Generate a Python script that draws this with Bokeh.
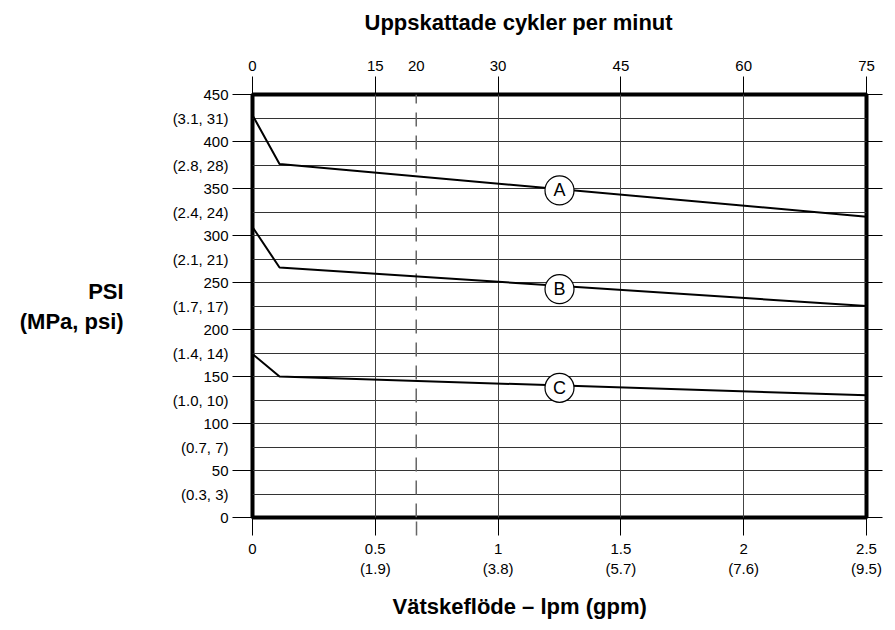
from bokeh.plotting import figure
from bokeh.models import Range1d, LinearAxis, FixedTicker, Title, Grid
from bokeh.core.properties import value
from bokeh.embed import file_html
from bokeh.resources import INLINE

# ---- data ----
flow_lpm = [0, 0.11, 2.5]
psi_A = [428, 376, 320]
psi_B = [309, 266, 225]
psi_C = [174, 150, 130]
curve_names = ["A", "B", "C"]
label_flow = [1.25, 1.25, 1.25]
label_psi = [348, 243, 138]

flow_ticks = [0, 0.5, 1, 1.5, 2, 2.5]
flow_tick_labels = ["0", "0.5\n(1.9)", "1\n(3.8)", "1.5\n(5.7)", "2\n(7.6)", "2.5\n(9.5)"]
cycle_ticks = [0, 15, 20, 30, 45, 60, 75]
cycle_solid = [0, 15, 30, 45, 60, 75]
cycle_grid = [15, 30, 45, 60]
est_cycles = 20
est_flow = 20 / 30  # 20 cycles/min on the lpm scale (75 cycles = 2.5 lpm)
psi_major = [0, 50, 100, 150, 200, 250, 300, 350, 400, 450]
psi_minor = [25, 75, 125, 175, 225, 275, 325, 375, 425]
psi_minor_labels = ["(0.3, 3)", "(0.7, 7)", "(1.0, 10)", "(1.4, 14)", "(1.7, 17)",
                    "(2.1, 21)", "(2.4, 24)", "(2.8, 28)", "(3.1, 31)"]

FONT = "Liberation Sans"

p = figure(width=888, height=630, x_range=Range1d(0, 2.5), y_range=Range1d(0, 450),
           output_backend="svg", toolbar_location=None,
           x_axis_location=None, y_axis_location=None,
           min_border_left=252, min_border_right=22, min_border_top=94, min_border_bottom=113)
p.extra_x_ranges = {"cycles": Range1d(0, 75)}
p.outline_line_color = "black"
p.outline_line_width = 4
p.background_fill_color = "white"
p.border_fill_color = "white"

# grids
p.add_layout(Grid(dimension=1, ticker=FixedTicker(ticks=sorted(psi_major + psi_minor)),
                  grid_line_color="#333", grid_line_width=1))
p.add_layout(Grid(dimension=0, x_range_name="cycles", ticker=FixedTicker(ticks=cycle_grid),
                  grid_line_color="#444", grid_line_width=1))

def style(ax):
    ax.axis_line_color = None
    ax.major_label_text_font = FONT
    ax.major_label_text_font_size = "15px"
    ax.major_label_text_color = "black"
    ax.major_tick_line_color = "black"
    ax.minor_tick_line_color = "black"
    ax.major_tick_in = 0
    ax.minor_tick_in = 0

# left axis
overrides = {v: str(v) for v in psi_major}
overrides.update({v: s for v, s in zip(psi_minor, psi_minor_labels)})
left = LinearAxis(ticker=FixedTicker(ticks=sorted(psi_major + psi_minor), minor_ticks=psi_major),
                  major_label_overrides=overrides)
style(left)
left.major_tick_out = 0
left.major_tick_line_color = None
left.minor_tick_out = 20
left.major_label_standoff = 4
left.axis_label = "PSI\n(MPa, psi)"
left.axis_label_orientation = "horizontal"
left.axis_label_text_align = "right"
left.axis_label_text_font = FONT
left.axis_label_text_font_size = "22px"
left.axis_label_text_font_style = "bold"
left.axis_label_text_color = "black"
left.axis_label_standoff = 46
p.add_layout(left, "left")

# right axis (ticks only)
right = LinearAxis(ticker=FixedTicker(ticks=psi_major),
                   major_label_overrides={v: "" for v in psi_major})
style(right)
right.major_tick_out = 16
right.major_label_standoff = 0
p.add_layout(right, "right")

# bottom axis
bottom = LinearAxis(ticker=FixedTicker(ticks=flow_ticks, minor_ticks=[est_flow]),
                    major_label_overrides={t: s for t, s in zip(flow_ticks, flow_tick_labels)})
style(bottom)
bottom.major_tick_out = 18
bottom.minor_tick_out = 18
bottom.minor_tick_line_color = "#666"
bottom.minor_tick_line_width = 1.5
bottom.minor_tick_line_dash = "14 9"
bottom.major_label_standoff = 4
p.add_layout(bottom, "below")

# top axis (a blank axis label only adds spacing above the tick labels)
top = LinearAxis(x_range_name="cycles",
                 ticker=FixedTicker(ticks=cycle_ticks, minor_ticks=cycle_solid))
style(top)
top.major_tick_out = 18
top.major_tick_line_color = None
top.minor_tick_out = 18
top.major_label_standoff = 6
top.axis_label = "\u00a0"
top.axis_label_text_font = FONT
top.axis_label_text_font_size = "10px"
top.axis_label_standoff = 0
p.add_layout(top, "above")

# dashed estimate line at 20 cycles/min
p.segment(x0=[est_cycles], y0=[0], x1=[est_cycles], y1=[450], x_range_name="cycles",
          line_color="#666", line_width=1.5, line_dash="14 9")

# curves
for ys in (psi_A, psi_B, psi_C):
    p.line(flow_lpm, ys, line_color="black", line_width=2)

p.scatter(label_flow, label_psi, marker="circle", size=29, fill_color="white",
          line_color="black", line_width=1.2)
p.text(label_flow, label_psi, text=curve_names, text_align="center", text_baseline="middle",
       text_font=value(FONT), text_font_size="18px", text_color="black")

# titles
p.add_layout(Title(text="Uppskattade cykler per minut", align="left", offset=112,
                   vertical_align="middle", standoff=16, text_font=FONT, text_font_size="22px",
                   text_font_style="bold", text_color="black"), "above")
p.add_layout(Title(text="Vätskeflöde – lpm (gpm)", align="left", offset=140,
                   standoff=24, text_font=FONT, text_font_size="22px",
                   text_font_style="bold", text_color="black"), "below")

open("out.html", "w").write(file_html(p, INLINE))
